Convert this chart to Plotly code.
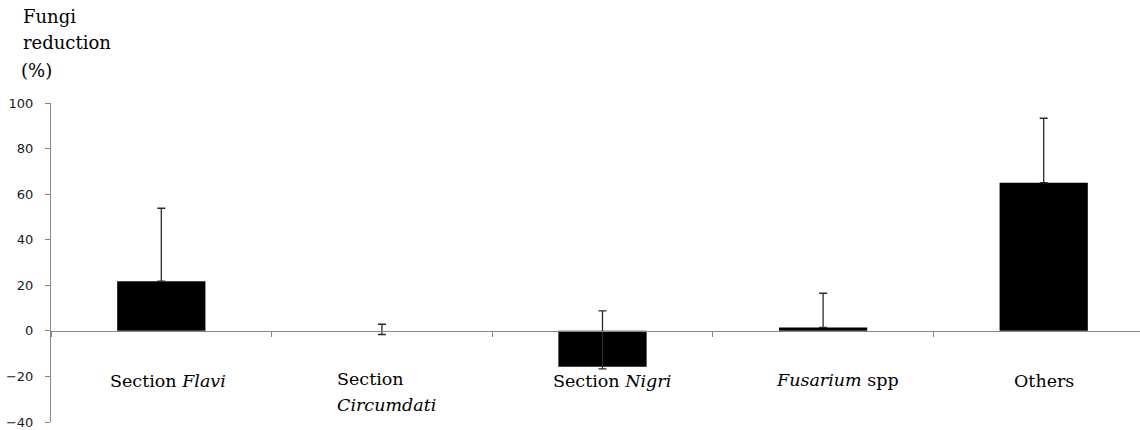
import plotly.graph_objects as go

categories = ["Section Flavi", "Section Circumdati", "Section Nigri", "Fusarium spp", "Others"]
values = [21.8, 0.0, -15.7, 1.5, 65.0]
err_plus = [32.0, 2.9, 24.5, 15.0, 28.3]
err_minus = [0.0, 1.6, 1.0, 0.0, 0.0]
y_ticks = [-40, -20, 0, 20, 40, 60, 80, 100]

# category label texts (with italic genus names) and their placement
label_specs = [
    dict(cat=0, text="Section <i>Flavi</i>", y=-22, xshift=7, xanchor="center"),
    dict(cat=1, text="Section", y=-21, xshift=-47, xanchor="left"),
    dict(cat=1, text="<i>Circumdati</i>", y=-32.5, xshift=-47, xanchor="left"),
    dict(cat=2, text="Section <i>Nigri</i>", y=-22, xshift=9, xanchor="center"),
    dict(cat=3, text="<i>Fusarium</i> spp", y=-21.5, xshift=14, xanchor="center"),
    dict(cat=4, text="Others", y=-22, xshift=0, xanchor="center"),
]
# title lines: (text, screen x px, screen y px)
title_lines = [("Fungi", 21, 16), ("reduction", 21, 43), ("(%)", 19, 71)]

SERIF = "DejaVu Serif"
AXIS_GREY = "#868686"

W, H = 1140, 430
PLOT_L, PLOT_T, PLOT_B, PLOT_R = 51, 103, 422, 1140
ML, MT = PLOT_L, PLOT_T
MR, MB = W - PLOT_R, H - PLOT_B
pw, ph = W - ML - MR, H - MT - MB

fig = go.Figure()
fig.add_trace(go.Bar(
    x=categories,
    y=values,
    width=0.4,
    marker=dict(color="black", line=dict(color="black", width=0)),
    error_y=dict(type="data", symmetric=False, array=err_plus, arrayminus=err_minus,
                 color="#2a2a2a", thickness=1.3, width=4),
    showlegend=False,
))

annotations = []
for spec in label_specs:
    annotations.append(dict(
        x=categories[spec["cat"]], y=spec["y"], xref="x", yref="y",
        text=spec["text"], showarrow=False, xanchor=spec["xanchor"], yanchor="middle",
        xshift=spec["xshift"], font=dict(family=SERIF, size=17.5, color="black"),
    ))
for text, xpix, ypix in title_lines:
    annotations.append(dict(
        x=(xpix - PLOT_L) / pw, y=1 - (ypix - PLOT_T) / ph, xref="paper", yref="paper",
        text=text, showarrow=False,
        xanchor="left", yanchor="middle", font=dict(family=SERIF, size=18, color="black"),
    ))

fig.update_layout(
    width=W, height=H,
    margin=dict(l=ML, r=MR, t=MT, b=MB, pad=0, autoexpand=False),
    paper_bgcolor="white", plot_bgcolor="white",
    annotations=annotations,
    xaxis=dict(
        type="category",
        range=[-0.5, -0.5 + pw / 220.6],
        anchor="free", position=40 / 140,
        showline=True, linecolor=AXIS_GREY, linewidth=1,
        ticks="outside", tickson="boundaries", ticklen=5, tickcolor=AXIS_GREY,
        showticklabels=False, showgrid=False, zeroline=False,
    ),
    yaxis=dict(
        range=[-40, 100], tickvals=y_ticks,
        showline=True, linecolor=AXIS_GREY, linewidth=1,
        ticks="outside", ticklen=5, tickcolor=AXIS_GREY,
        ticklabelstandoff=9,
        tickfont=dict(family="DejaVu Sans", size=13, color="#1a1a1a"),
        showgrid=False, zeroline=False,
    ),
)

fig.write_html(
    "out.html",
    config={"displayModeBar": False},
    post_script="document.body.style.margin='0';document.body.style.overflow='hidden';",
)
